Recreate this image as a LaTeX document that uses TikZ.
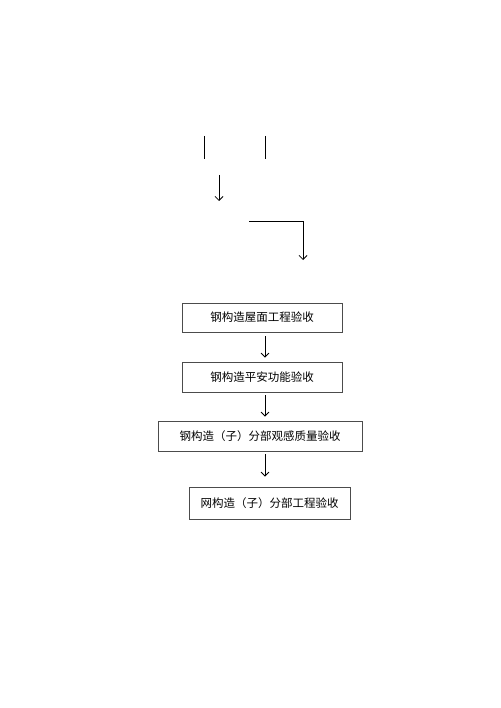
\documentclass[tikz,border=0pt]{standalone}
\usepackage{fontspec}
\newfontfamily\cjk{Noto Sans CJK SC}
\usetikzlibrary{arrows.meta}
\tikzset{
  caixa/.style={draw=black!70, line width=0.8pt, inner sep=0pt,
    font=\cjk\fontsize{11.5}{14}\selectfont},
  seta/.style={line width=0.8pt, ->}
}
\begin{document}
\begin{tikzpicture}[x=1pt, y=-1pt, >={Straight Barb[length=4pt, width=8pt]}]
  \useasboundingbox[fill=white] (0,0) rectangle (500,708);
  % Pontos
  \coordinate (eixo) at (265,0);
  \coordinate (L1a) at (204,136);
  \coordinate (L1b) at (204,159);
  \coordinate (L2a) at (265,136);
  \coordinate (L2b) at (265,159);
  \coordinate (S1a) at (219,175);
  \coordinate (S1b) at (219,201);
  \coordinate (Ha) at (249,221);
  \coordinate (Hb) at (303,221);
  \coordinate (Hc) at (303,260);

  % Tracos soltos
  \draw[line width=0.8pt] (L1a) -- (L1b);
  \draw[line width=0.8pt] (L2a) -- (L2b);
  \draw[seta] (S1a) -- (S1b);
  \draw[seta] (Ha) -- (Hb) -- (Hc);

  % Caixas
  \node[caixa, minimum width=160pt, minimum height=29pt] (cobertura) at (262,317.5) {钢构造屋面工程验收};
  \node[caixa, minimum width=160pt, minimum height=30pt] (seguranca) at (262,377) {钢构造平安功能验收};
  \node[caixa, minimum width=204pt, minimum height=30pt] (aspecto) at (260,436) {钢构造（子）分部观感质量验收};
  \node[caixa, minimum width=161pt, minimum height=32pt] (rede) at (269.5,503) {网构造（子）分部工程验收};

  % Setas entre caixas
  \draw[seta, shorten <=4pt, shorten >=4pt] (cobertura.south -| eixo) -- (seguranca.north -| eixo);
  \draw[seta, shorten <=3pt, shorten >=4pt] (seguranca.south -| eixo) -- (aspecto.north -| eixo);
  \draw[seta, shorten <=3pt, shorten >=10pt] (aspecto.south -| eixo) -- (rede.north -| eixo);
\end{tikzpicture}
\end{document}
